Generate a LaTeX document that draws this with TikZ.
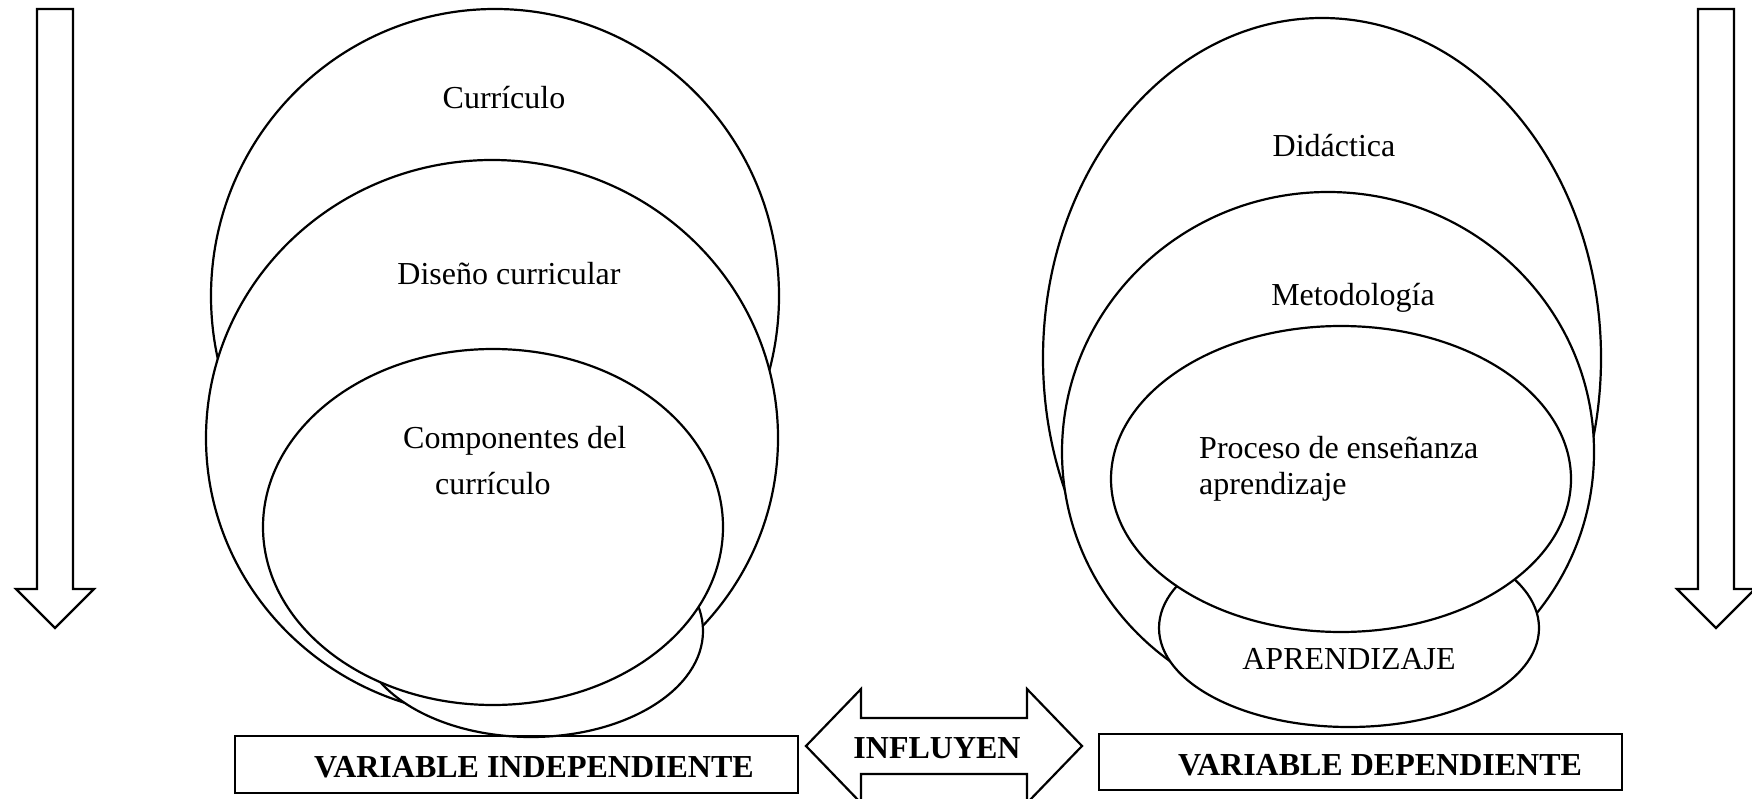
\documentclass[tikz,border=0pt]{standalone}
\usepackage{fontspec}
\setmainfont{Liberation Serif}
\usetikzlibrary{shapes.geometric}
\begin{document}
\begin{tikzpicture}[x=1pt,y=-1pt,
  ell/.style={draw, ellipse, fill=white, line width=2.2pt, inner sep=0pt},
  lbl/.style={font=\fontsize{32}{38}\selectfont, inner sep=0pt},
  blbl/.style={font=\fontsize{32}{38}\selectfont\bfseries, inner sep=0pt},
  blk/.style={draw, fill=white, line width=2.2pt, line join=miter},
  varbox/.style={draw, rectangle, line width=2.6pt, inner sep=0pt}]
\useasboundingbox (0,0) rectangle (1752,799);
% side arrows
\draw[blk] (37,9) -- (73,9) -- (73,589) -- (94,589) -- (55,628) -- (16,589) -- (37,589) -- cycle;
\draw[blk] (1698,9) -- (1734,9) -- (1734,589) -- (1755,589) -- (1716,628) -- (1677,589) -- (1698,589) -- cycle;
% left group
\node[ell, minimum width=568pt, minimum height=574pt] (A) at (495,296) {};
\node[ell, minimum width=572pt, minimum height=556pt] (B) at (492,438) {};
\node[ell, minimum width=344pt, minimum height=212pt] (C) at (531,631) {};
\node[ell, minimum width=460pt, minimum height=356pt] (D) at (493,527) {};
\node[lbl] (tA) at (504,98) {Currículo};
\node[lbl] (tB) at (509,274) {Diseño curricular};
\node[lbl, anchor=west] (tD1) at (403,441) {Componentes del};
\node[lbl, anchor=west] (tD2) at (435,484) {currículo};
% right group
\node[ell, minimum width=558pt, minimum height=680pt] (E) at (1322,358) {};
\node[ell, minimum width=532pt, minimum height=520pt] (F) at (1328,452) {};
\node[ell, minimum width=380pt, minimum height=198pt] (G) at (1349,628) {};
\node[ell, minimum width=460pt, minimum height=306pt] (H) at (1341,479) {};
\node[lbl] (tE) at (1334,146) {Didáctica};
\node[lbl] (tF) at (1353,298) {Metodología};
\node[lbl, anchor=west] (tH1) at (1199,448) {Proceso de enseñanza};
\node[lbl, anchor=west] (tH2) at (1199,487) {aprendizaje};
\node[lbl] (tG) at (1349,659) {APRENDIZAJE};
% bottom
\node[varbox, minimum width=563pt, minimum height=57pt] (vi) at (516.5,764.5) {};
\node[blbl] (tvi) at (534,767) {VARIABLE INDEPENDIENTE};
\draw[blk] (806,746) -- (861,689) -- (861,718) -- (1027,718) -- (1027,689) -- (1082,746) -- (1027,803) -- (1027,774) -- (861,774) -- (861,803) -- cycle;
\node[blbl] (tinf) at (937,748) {INFLUYEN};
\node[varbox, minimum width=523pt, minimum height=56pt] (vd) at (1360.5,762) {};
\node[blbl] (tvd) at (1380,765) {VARIABLE DEPENDIENTE};
\end{tikzpicture}
\end{document}
